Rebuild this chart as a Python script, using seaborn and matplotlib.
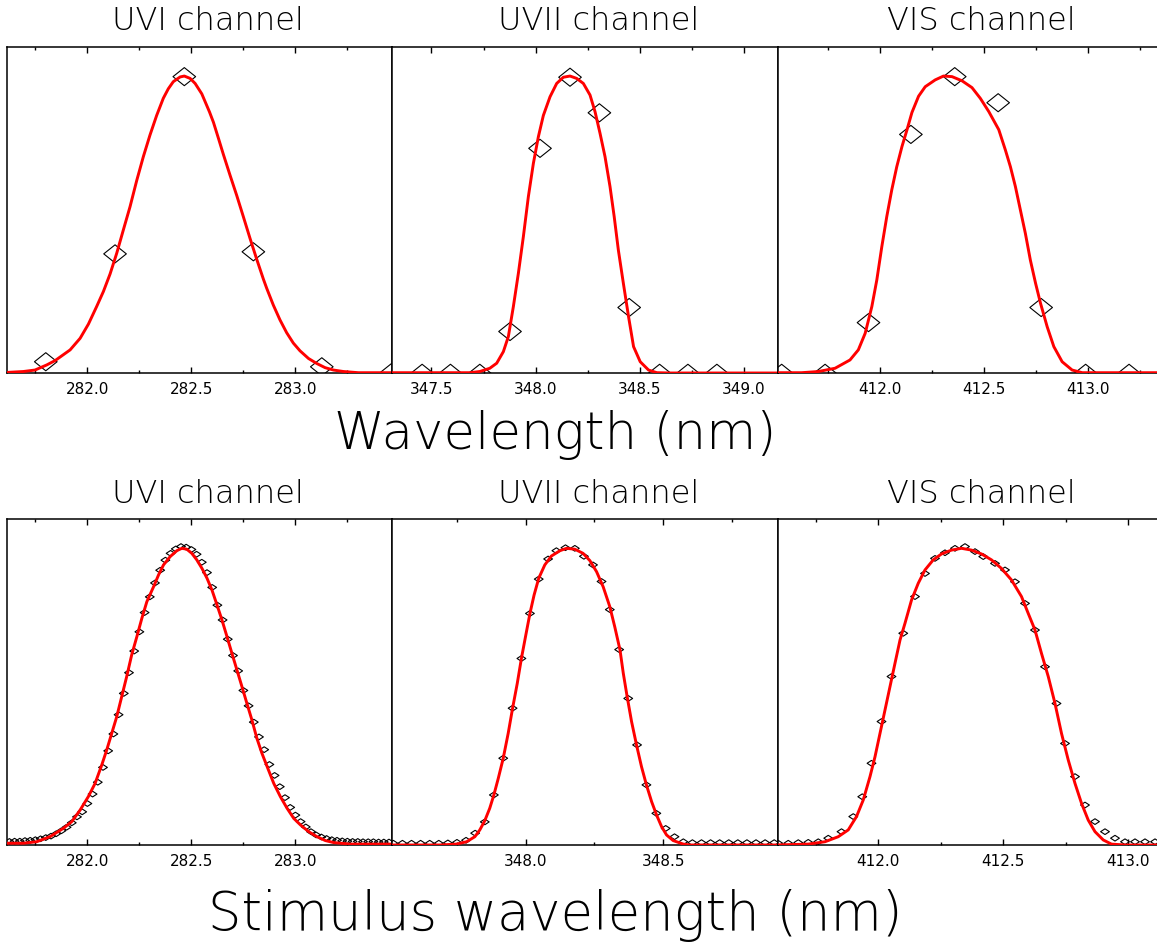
import numpy as np
import pandas as pd
import matplotlib
matplotlib.use("Agg")
import matplotlib.pyplot as plt
import seaborn as sns
from matplotlib.path import Path
from matplotlib.ticker import MultipleLocator, FormatStrFormatter
from matplotlib import font_manager as fm

# ---------------- data ----------------
channels = ["UVI channel", "UVII channel", "VIS channel"]

# top row: measured points (diamonds)
uv1_pts_x = [281.800, 282.133, 282.466, 282.798, 283.127, 283.463]
uv1_pts_y = [0.039, 0.403, 1.001, 0.410, 0.022, 0.003]
uv2_pts_x = [347.455, 347.591, 347.732, 347.877, 348.021, 348.165, 348.306, 348.449, 348.595, 348.731, 348.870]
uv2_pts_y = [0.0, 0.0, 0.0, 0.141, 0.759, 0.999, 0.879, 0.222, 0.0, 0.0, 0.0]
vis_pts_x = [411.526, 411.735, 411.944, 412.148, 412.359, 412.568, 412.775, 412.989, 413.198]
vis_pts_y = [0.0, 0.0, 0.171, 0.806, 1.001, 0.913, 0.222, 0.0, 0.0]

# top row: fitted curves (red)
uv1_fit_x = [281.615, 281.692, 281.748, 281.804, 281.845, 281.917, 281.965, 282.005, 282.045, 282.077,
             282.109, 282.141, 282.173, 282.205, 282.237, 282.269, 282.301, 282.333, 282.365, 282.389,
             282.413, 282.446, 282.466, 282.494, 282.518, 282.550, 282.587, 282.606, 282.630, 282.654,
             282.686, 282.718, 282.750, 282.782, 282.814, 282.846, 282.862, 282.894, 282.926, 282.958,
             282.990, 283.022, 283.063, 283.103, 283.143, 283.183, 283.231, 283.303, 283.463]
uv1_fit_y = [0.003, 0.006, 0.011, 0.028, 0.043, 0.079, 0.118, 0.166, 0.226, 0.276,
             0.335, 0.405, 0.484, 0.562, 0.650, 0.731, 0.804, 0.870, 0.928, 0.960,
             0.984, 1.000, 1.003, 0.995, 0.978, 0.943, 0.882, 0.847, 0.793, 0.738,
             0.668, 0.600, 0.528, 0.455, 0.385, 0.318, 0.287, 0.230, 0.180, 0.137,
             0.102, 0.076, 0.050, 0.033, 0.019, 0.011, 0.006, 0.002, 0.002]
uv2_fit_x = [347.300, 347.684, 347.732, 347.780, 347.813, 347.845, 347.869, 347.893, 347.917, 347.941,
             347.965, 347.989, 348.013, 348.037, 348.069, 348.101, 348.133, 348.165, 348.197, 348.229,
             348.261, 348.285, 348.309, 348.333, 348.357, 348.377, 348.397, 348.421, 348.446, 348.470,
             348.502, 348.542, 348.582, 348.646, 349.175]
uv2_fit_y = [0.002, 0.002, 0.006, 0.017, 0.034, 0.073, 0.124, 0.225, 0.337, 0.461,
             0.596, 0.708, 0.798, 0.870, 0.933, 0.978, 0.999, 1.003, 0.995, 0.978,
             0.939, 0.883, 0.810, 0.731, 0.630, 0.529, 0.416, 0.304, 0.191, 0.090,
             0.039, 0.011, 0.002, 0.001, 0.001]
vis_fit_x = [411.494, 411.622, 411.703, 411.783, 411.855, 411.895, 411.928, 411.960, 411.984, 412.008,
             412.032, 412.056, 412.080, 412.105, 412.129, 412.153, 412.185, 412.217, 412.265, 412.305,
             412.346, 412.394, 412.442, 412.482, 412.523, 412.571, 412.603, 412.627, 412.651, 412.675,
             412.699, 412.723, 412.748, 412.772, 412.804, 412.836, 412.876, 412.924, 412.973, 413.360]
vis_fit_y = [0.002, 0.002, 0.006, 0.017, 0.045, 0.079, 0.135, 0.225, 0.315, 0.427,
             0.529, 0.619, 0.697, 0.765, 0.821, 0.880, 0.935, 0.967, 0.990, 1.003,
             1.001, 0.987, 0.964, 0.928, 0.883, 0.822, 0.753, 0.697, 0.630, 0.551,
             0.472, 0.382, 0.304, 0.236, 0.157, 0.090, 0.039, 0.011, 0.002, 0.002]

# bottom row: stimulus scans (diamonds)
s_uv1_x = [281.625, 281.650, 281.675, 281.700, 281.725, 281.750, 281.775, 281.800, 281.825, 281.850,
           281.875, 281.900, 281.925, 281.950, 281.975, 282.000, 282.025, 282.050, 282.075, 282.100,
           282.125, 282.150, 282.175, 282.200, 282.225, 282.250, 282.275, 282.300, 282.325, 282.350,
           282.375, 282.400, 282.425, 282.450, 282.475, 282.500, 282.525, 282.550, 282.575, 282.600,
           282.625, 282.650, 282.675, 282.700, 282.725, 282.750, 282.775, 282.800, 282.825, 282.850,
           282.875, 282.900, 282.925, 282.950, 282.975, 283.000, 283.025, 283.050, 283.075, 283.100,
           283.125, 283.150, 283.175, 283.200, 283.225, 283.250, 283.275, 283.300, 283.325, 283.350,
           283.375, 283.400, 283.425, 283.450]
s_uv1_y = [0.012, 0.013, 0.013, 0.015, 0.016, 0.018, 0.021, 0.025, 0.030, 0.038,
           0.048, 0.060, 0.075, 0.095, 0.112, 0.140, 0.172, 0.212, 0.262, 0.318,
           0.375, 0.440, 0.512, 0.582, 0.655, 0.720, 0.785, 0.838, 0.885, 0.928,
           0.962, 0.985, 1.000, 1.008, 1.006, 0.998, 0.982, 0.955, 0.920, 0.870,
           0.810, 0.760, 0.695, 0.640, 0.588, 0.522, 0.470, 0.415, 0.365, 0.322,
           0.272, 0.235, 0.197, 0.160, 0.127, 0.101, 0.079, 0.061, 0.045, 0.034,
           0.027, 0.022, 0.018, 0.016, 0.014, 0.013, 0.012, 0.012, 0.011, 0.011,
           0.011, 0.010, 0.010, 0.010]
s_uv2_x = [347.520, 347.553, 347.586, 347.619, 347.652, 347.685, 347.718, 347.751, 347.784, 347.817,
           347.852, 347.885, 347.919, 347.953, 347.985, 348.016, 348.048, 348.082, 348.112, 348.145,
           348.179, 348.212, 348.245, 348.276, 348.306, 348.340, 348.373, 348.405, 348.439, 348.475,
           348.509, 348.541, 348.573, 348.606, 348.639, 348.672, 348.705, 348.738, 348.771, 348.804,
           348.837, 348.870, 348.903]
s_uv2_y = [0.006, 0.006, 0.006, 0.006, 0.006, 0.006, 0.007, 0.009, 0.016, 0.040,
           0.078, 0.169, 0.293, 0.462, 0.630, 0.782, 0.898, 0.966, 0.994, 1.004,
           1.002, 0.975, 0.946, 0.890, 0.795, 0.660, 0.495, 0.338, 0.203, 0.107,
           0.056, 0.028, 0.011, 0.008, 0.008, 0.008, 0.008, 0.008, 0.008, 0.008,
           0.008, 0.008, 0.008]
s_vis_x = [411.600, 411.640, 411.680, 411.720, 411.760, 411.800, 411.853, 411.900, 411.936, 411.973,
           412.013, 412.053, 412.100, 412.147, 412.187, 412.227, 412.267, 412.307, 412.347, 412.387,
           412.420, 412.467, 412.507, 412.547, 412.587, 412.627, 412.667, 412.713, 412.747, 412.787,
           412.827, 412.867, 412.907, 412.947, 412.987, 413.027, 413.067, 413.107]
s_vis_y = [0.006, 0.006, 0.008, 0.009, 0.011, 0.023, 0.045, 0.096, 0.163, 0.276,
           0.417, 0.569, 0.715, 0.839, 0.917, 0.968, 0.987, 1.002, 1.008, 0.991,
           0.974, 0.951, 0.929, 0.889, 0.816, 0.726, 0.602, 0.478, 0.343, 0.231,
           0.135, 0.079, 0.045, 0.023, 0.011, 0.011, 0.011, 0.011]

# bottom row: fitted curves (red)
f_uv1_x = [281.612, 281.692, 281.756, 281.820, 281.884, 281.925, 281.965, 282.005, 282.037, 282.069,
           282.093, 282.117, 282.141, 282.165, 282.189, 282.213, 282.238, 282.262, 282.286, 282.318,
           282.342, 282.366, 282.398, 282.430, 282.454, 282.478, 282.502, 282.526, 282.551, 282.575,
           282.599, 282.623, 282.647, 282.671, 282.695, 282.719, 282.743, 282.767, 282.791, 282.815,
           282.839, 282.864, 282.896, 282.928, 282.960, 282.992, 283.024, 283.064, 283.104, 283.144,
           283.185, 283.265, 283.506]
f_uv1_y = [0.006, 0.006, 0.011, 0.028, 0.056, 0.079, 0.118, 0.164, 0.208, 0.270,
           0.321, 0.377, 0.433, 0.501, 0.569, 0.642, 0.704, 0.766, 0.822, 0.872,
           0.912, 0.946, 0.974, 0.994, 1.002, 0.999, 0.985, 0.963, 0.934, 0.901,
           0.861, 0.811, 0.760, 0.704, 0.647, 0.591, 0.535, 0.478, 0.422, 0.360,
           0.310, 0.265, 0.208, 0.163, 0.124, 0.090, 0.068, 0.045, 0.028, 0.015,
           0.008, 0.003, 0.003]
f_uv2_x = [347.507, 347.689, 347.749, 347.786, 347.816, 347.834, 347.852, 347.870, 347.885, 347.901,
           347.919, 347.937, 347.953, 347.970, 347.985, 348.001, 348.016, 348.031, 348.048, 348.070,
           348.094, 348.125, 348.149, 348.179, 348.209, 348.234, 348.258, 348.282, 348.306, 348.324,
           348.343, 348.355, 348.369, 348.385, 348.403, 348.421, 348.439, 348.458, 348.476, 348.494,
           348.512, 348.536, 348.573, 348.597, 348.924]
f_uv2_y = [0.0, 0.0, 0.003, 0.011, 0.028, 0.051, 0.082, 0.124, 0.169, 0.225,
           0.293, 0.377, 0.462, 0.546, 0.630, 0.709, 0.782, 0.844, 0.901, 0.946,
           0.976, 0.994, 1.002, 0.999, 0.985, 0.960, 0.923, 0.872, 0.805, 0.737,
           0.659, 0.580, 0.501, 0.417, 0.338, 0.265, 0.203, 0.146, 0.101, 0.062,
           0.034, 0.015, 0.003, 0.0, 0.0]
f_vis_x = [411.587, 411.720, 411.787, 411.840, 411.880, 411.913, 411.940, 411.967, 411.987, 412.007,
           412.027, 412.047, 412.067, 412.087, 412.107, 412.133, 412.160, 412.187, 412.220, 412.253,
           412.293, 412.333, 412.373, 412.413, 412.453, 412.493, 412.533, 412.573, 412.600, 412.627,
           412.653, 412.680, 412.707, 412.733, 412.760, 412.787, 412.813, 412.840, 412.867, 412.900,
           412.933, 412.987, 413.140]
f_vis_y = [0.0, 0.003, 0.011, 0.028, 0.051, 0.096, 0.152, 0.231, 0.298, 0.377,
           0.456, 0.535, 0.614, 0.692, 0.749, 0.827, 0.884, 0.929, 0.963, 0.983,
           0.996, 1.002, 0.996, 0.983, 0.963, 0.934, 0.895, 0.839, 0.782, 0.726,
           0.647, 0.569, 0.478, 0.377, 0.287, 0.208, 0.141, 0.084, 0.045, 0.017,
           0.003, 0.0, 0.0]

top_pts = [(uv1_pts_x, uv1_pts_y), (uv2_pts_x, uv2_pts_y), (vis_pts_x, vis_pts_y)]
top_fit = [(uv1_fit_x, uv1_fit_y), (uv2_fit_x, uv2_fit_y), (vis_fit_x, vis_fit_y)]
bot_pts = [(s_uv1_x, s_uv1_y), (s_uv2_x, s_uv2_y), (s_vis_x, s_vis_y)]
bot_fit = [(f_uv1_x, f_uv1_y), (f_uv2_x, f_uv2_y), (f_vis_x, f_vis_y)]

# ---------------- style ----------------
sns.set_style("white")

# choose a light-weight sans face if one is installed, else DejaVu Sans
avail = {(f.name, f.weight) for f in fm.fontManager.ttflist}
font_name, font_weight = "DejaVu Sans", "normal"
for nm, wt in [("DejaVu Sans", 200), ("Lato", 300), ("Open Sans", 300), ("Roboto", 300)]:
    if (nm, wt) in avail:
        font_name, font_weight = nm, wt
        break
plt.rcParams["font.family"] = [font_name, "DejaVu Sans"]
plt.rcParams["font.weight"] = "normal"

W, H = 1157, 942
fig = plt.figure(figsize=(W / 100, H / 100), dpi=100)
fig.patch.set_facecolor("white")

cols = [(7.3, 391.7), (391.7, 777.5), (777.5, 1162.5)]
rows = [(47.3, 373.3), (519.3, 845.0)]
xlims = [[(281.615, 283.463), (347.309, 349.161), (411.506, 413.359)],
         [(281.615, 283.463), (347.514, 348.915), (411.597, 413.137)]]

def diamond(ratio):
    return Path([(-1, 0), (0, ratio), (1, 0), (0, -ratio), (-1, 0)],
                [Path.MOVETO, Path.LINETO, Path.LINETO, Path.LINETO, Path.CLOSEPOLY])

marker_specs = [(diamond(0.8), 265), (diamond(0.65), 40)]

for r, (yt, yb) in enumerate(rows):
    pts_list = top_pts if r == 0 else bot_pts
    fit_list = top_fit if r == 0 else bot_fit
    for c, (x0, x1) in enumerate(cols):
        ax = fig.add_axes([x0 / W, (H - yb) / H, (x1 - x0) / W, (yb - yt) / H])
        px, py = pts_list[c]
        fx, fy = fit_list[c]
        mk, ms = marker_specs[r]
        sns.scatterplot(x=px, y=py, ax=ax, marker=mk, s=ms, color="black",
                        linewidth=0.8, zorder=2, legend=False)
        coll = ax.collections[-1]
        coll.set_facecolor("none")
        coll.set_edgecolor("black")
        sns.lineplot(x=fx, y=fy, ax=ax, color="#ff0000", linewidth=2.1,
                     estimator=None, sort=True, zorder=3, legend=False)
        ax.set_xlim(*xlims[r][c])
        ax.set_ylim(0, 1.1)
        ax.set_xlabel("")
        ax.set_ylabel("")
        ax.set_yticks([])
        ax.xaxis.set_major_locator(MultipleLocator(0.5))
        ax.xaxis.set_minor_locator(MultipleLocator(0.25))
        ax.xaxis.set_major_formatter(FormatStrFormatter("%.1f"))
        ax.tick_params(axis="x", which="both", direction="in", top=True, bottom=True,
                       color="black", labelsize=11, pad=6.5, labelcolor="black")
        ax.tick_params(axis="x", which="major", length=4.5, width=1.0)
        ax.tick_params(axis="x", which="minor", length=2.2, width=1.0)
        for lab in ax.get_xticklabels():
            lab.set_family("DejaVu Sans")
            lab.set_fontweight("normal")
        for sp in ax.spines.values():
            sp.set_visible(True)
            sp.set_color("black")
            sp.set_linewidth(1.1)
        ax.set_facecolor("white")

# channel titles
title_x = [208, 599, 981]
title_base = [30, 502.7]
for r in range(2):
    for c in range(3):
        fig.text(title_x[c] / W, (H - title_base[r]) / H, channels[c],
                 ha="center", va="baseline", fontsize=23, color="black",
                 fontweight=font_weight)

fig.text(555 / W, (H - 449) / H, "Wavelength (nm)", ha="center", va="baseline",
         fontsize=37, color="black", fontweight=font_weight)
fig.text(555 / W, (H - 930) / H, "Stimulus wavelength (nm)", ha="center", va="baseline",
         fontsize=38, color="black", fontweight=font_weight)

fig.savefig("out.png", dpi=100, facecolor="white")
